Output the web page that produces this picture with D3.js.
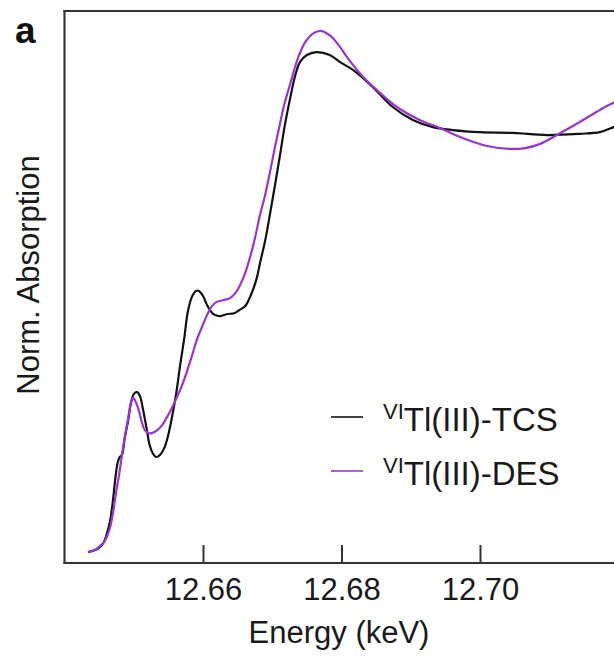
<!DOCTYPE html>
<html>
<head>
<meta charset="utf-8">
<script src="https://cdn.jsdelivr.net/npm/d3@7"></script>
<style>
  html, body { margin: 0; padding: 0; background: #fff; }
  svg { display: block; font-family: Arial, "Liberation Sans", Helvetica, sans-serif; }
</style>
</head>
<body>
<svg id="chart" width="614" height="656"></svg>
<script>
// ---- data ----
const seriesNames = ["TCS", "DES"];
const tickValues = [12.64, 12.66, 12.68, 12.70, 12.72];
const tickLabels = ["12.64", "12.66", "12.68", "12.70", "12.72"];

const tcsEnergy = [12.6434,12.6444,12.6451,12.6457,12.6461,12.6466,12.6470,12.6474,12.6477,12.6480,
  12.6483,12.6487,12.6492,12.6496,12.6500,12.6505,12.6509,12.6513,12.6519,12.6523,
  12.6528,12.6532,12.6538,12.6544,12.6549,12.6555,12.6561,12.6567,12.6573,12.6578,
  12.6584,12.6590,12.6594,12.6600,12.6606,12.6612,12.6617,12.6625,12.6635,12.6645,
  12.6653,12.6661,12.6668,12.6672,12.6678,12.6682,12.6690,12.6697,12.6704,12.6711,
  12.6718,12.6726,12.6733,12.6740,12.6750,12.6765,12.6783,
  12.6798,12.6817,12.6845,12.6874,12.6903,12.6932,12.6961,12.7000,12.7048,12.7097,
  12.7144,12.7173,12.7193,12.7205];
const tcsAbs = [0.000,0.005,0.012,0.024,0.043,0.076,0.124,0.184,0.215,0.227,
  0.232,0.272,0.315,0.356,0.377,0.382,0.372,0.344,0.291,0.255,
  0.234,0.227,0.232,0.248,0.274,0.320,0.375,0.446,0.511,0.573,
  0.609,0.623,0.623,0.611,0.589,0.573,0.566,0.563,0.568,0.570,
  0.578,0.587,0.609,0.625,0.656,0.687,0.745,0.809,0.876,0.945,
  1.017,1.084,1.136,1.169,1.186,1.193,1.186,
  1.169,1.150,1.110,1.062,1.031,1.014,1.007,1.002,1.000,0.995,
  0.998,1.002,1.014,1.021];

const desEnergy = [12.6434,12.6444,12.6451,12.6457,12.6461,12.6466,12.6470,12.6474,12.6479,12.6483,
  12.6487,12.6492,12.6496,12.6499,12.6503,12.6508,12.6512,12.6516,12.6521,12.6526,
  12.6534,12.6541,12.6548,12.6555,12.6562,12.6570,12.6577,12.6584,12.6591,12.6599,
  12.6606,12.6613,12.6620,12.6629,12.6639,12.6648,12.6653,12.6661,12.6668,12.6675,
  12.6682,12.6690,12.6697,12.6704,12.6711,12.6718,12.6726,12.6733,12.6740,12.6747,
  12.6755,12.6763,12.6772,12.6780,12.6786,12.6798,12.6808,12.6831,12.6856,12.6880,
  12.6913,12.6942,12.6975,12.7010,12.7043,12.7065,12.7087,12.7111,12.7144,12.7173,12.7193,
  12.7205];
const desAbs = [0.000,0.005,0.014,0.024,0.036,0.060,0.093,0.138,0.186,0.232,
  0.274,0.320,0.358,0.368,0.358,0.334,0.308,0.291,0.284,0.284,
  0.291,0.303,0.322,0.344,0.368,0.399,0.432,0.468,0.506,0.539,
  0.566,0.587,0.597,0.601,0.606,0.621,0.635,0.666,0.704,0.749,
  0.802,0.854,0.909,0.967,1.021,1.072,1.117,1.158,1.191,1.215,
  1.232,1.241,1.243,1.236,1.229,1.205,1.181,1.134,1.095,1.062,
  1.031,1.012,0.988,0.969,0.962,0.964,0.974,0.995,1.026,1.055,1.072,
  1.079];

const seriesColors = ["#111111", "#9a33d6"];

// ---- layout ----
const svg = d3.select("#chart");
const mLeft = 64.5, mTop = 11, mBottom = 563, W = 614;
const x = d3.scaleLinear().domain([12.64, 12.72]).range([mLeft, mLeft + 4 * 138.5]);
const y = d3.scaleLinear().domain([-0.026, 1.291]).range([mBottom, mTop]);

const series = [
  { name: seriesNames[0], pts: tcsEnergy.map((e, i) => [e, tcsAbs[i]]) },
  { name: seriesNames[1], pts: desEnergy.map((e, i) => [e, desAbs[i]]) }
];

svg.append("defs").append("clipPath").attr("id", "plotclip")
  .append("rect").attr("x", mLeft).attr("y", mTop).attr("width", W - mLeft).attr("height", mBottom - mTop);

const line = d3.line().x(d => x(d[0])).y(d => y(d[1])).curve(d3.curveCatmullRom.alpha(0.5));

const plot = svg.append("g").attr("clip-path", "url(#plotclip)");
series.forEach((s, i) => {
  plot.append("path").datum(s.pts)
    .attr("d", line).attr("fill", "none").attr("stroke", seriesColors[i]).attr("stroke-width", 2.2);
});

// ---- frame ----
const frameColor = "#333";
svg.append("line").attr("x1", mLeft).attr("x2", mLeft).attr("y1", mTop - 1).attr("y2", mBottom + 1)
  .attr("stroke", frameColor).attr("stroke-width", 2.2);
svg.append("line").attr("x1", mLeft - 1).attr("x2", W).attr("y1", mTop).attr("y2", mTop)
  .attr("stroke", frameColor).attr("stroke-width", 2.2);

// bottom axis with inward ticks
const xAxis = d3.axisBottom(x).tickValues(tickValues)
  .tickFormat((d, i) => tickLabels[i]).tickSizeInner(-18).tickSizeOuter(0).tickPadding(0);
const ax = svg.append("g").attr("transform", `translate(0,${mBottom})`).call(xAxis);
ax.select(".domain").attr("stroke", frameColor).attr("stroke-width", 2.2)
  .attr("d", `M${mLeft - 1},0H${W}`);
ax.selectAll(".tick line").attr("stroke", frameColor).attr("stroke-width", 2);
ax.selectAll(".tick").filter(d => d === 12.64 || d === 12.72).remove();
ax.selectAll(".tick text").attr("y", 37).attr("dy", 0)
  .attr("font-size", 31).attr("fill", "#1a1a1a").attr("font-family", "Arial, 'Liberation Sans', sans-serif");

// axis titles
svg.append("text").attr("x", 339).attr("y", 643).attr("text-anchor", "middle")
  .attr("font-size", 31).attr("fill", "#1a1a1a").text("Energy (keV)");
svg.append("text").attr("transform", "translate(39,275) rotate(-90)").attr("text-anchor", "middle")
  .attr("font-size", 31).attr("fill", "#1a1a1a").text("Norm. Absorption");

// panel label
svg.append("text").attr("x", 15).attr("y", 43).attr("font-size", 37).attr("font-weight", "bold")
  .attr("fill", "#111").text("a");

// ---- legend ----
const legend = svg.append("g");
const legRows = [417, 471];
series.forEach((s, i) => {
  const gy = legRows[i];
  legend.append("line").attr("x1", 331).attr("x2", 363).attr("y1", gy).attr("y2", gy)
    .attr("stroke", seriesColors[i]).attr("stroke-width", 1.6);
  const t = legend.append("text").attr("x", 383).attr("y", gy + 14).attr("font-size", 33).attr("fill", "#1a1a1a");
  t.append("tspan").attr("font-size", 22).attr("dy", -12).text("VI");
  t.append("tspan").attr("dy", 12).text("Tl(III)-" + s.name);
});
</script>
</body>
</html>
